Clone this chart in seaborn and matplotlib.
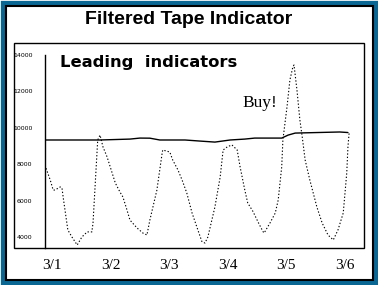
import matplotlib
matplotlib.use("Agg")
import matplotlib.pyplot as plt
import seaborn as sns
import pandas as pd
from matplotlib.patches import Rectangle

# ---- data ----
price_days = [-0.12, -0.03, 0.02, 0.05, 0.14, 0.17, 0.19, 0.27, 0.34, 0.43, 0.51, 0.60, 0.68, 0.70,
              0.78, 0.82, 0.87, 0.94, 1.08, 1.16, 1.21, 1.28, 1.33, 1.45, 1.55, 1.62, 1.67, 1.79,
              1.88, 1.89, 2.01, 2.06, 2.15, 2.22, 2.30, 2.39, 2.49, 2.56, 2.61, 2.66, 2.78, 2.87,
              2.92, 2.99, 3.07, 3.16, 3.21, 3.29, 3.34, 3.43, 3.52, 3.60, 3.62, 3.72, 3.81, 3.86,
              3.92, 3.94, 4.01, 4.06, 4.11, 4.13, 4.18, 4.23, 4.27, 4.32, 4.40, 4.52, 4.61, 4.71,
              4.80, 4.88, 4.97, 5.03, 5.05, 5.07]
price_vals = [7950, 7130, 6580, 6580, 6750, 6700, 6200, 4390, 4000, 3560, 4000, 4280, 4280, 4770,
              9330, 9600, 8950, 8400, 6970, 6470, 6200, 5480, 4930, 4500, 4220, 4110, 4930, 6580,
              8620, 8780, 8670, 8230, 7680, 7130, 6420, 5320, 4380, 3730, 3670, 4000, 5650, 7300,
              8780, 8950, 9060, 8780, 7850, 6580, 5870, 5400, 4800, 4300, 4220, 4770, 5320, 6030,
              7850, 9330, 11140, 12630, 13340, 13450, 12080, 10430, 9500, 8230, 7130, 5650, 4770, 4110,
              3840, 4385, 5320, 7520, 8940, 9710]

lead_days = [-0.12, 0.82, 1.33, 1.50, 1.67, 1.84, 2.27, 2.53, 2.78, 3.04, 3.29, 3.46, 3.92, 4.03,
             4.15, 4.91, 5.05]
lead_vals = [9330, 9330, 9380, 9435, 9430, 9330, 9330, 9270, 9215, 9330, 9380, 9435, 9435, 9600,
             9710, 9770, 9740]

date_labels = ["3/1", "3/2", "3/3", "3/4", "3/5", "3/6"]
ytick_vals = [4000, 6000, 8000, 10000, 12000, 14000]

price = pd.DataFrame({"day": price_days, "value": price_vals})
lead = pd.DataFrame({"day": lead_days, "value": lead_vals})

sns.set_style("white")
plt.rcParams.update({"text.color": "black", "xtick.color": "black", "ytick.color": "black",
                     "axes.labelcolor": "black", "axes.edgecolor": "black"})
W, H = 378, 285
fig = plt.figure(figsize=(W / 100, H / 100), dpi=100)
fig.patch.set_facecolor("white")

def fx(px):
    return px / W

def fy(py):
    return 1 - py / H

# outer blue + black frame
fig.patches.append(Rectangle((fx(2.5), fy(282.5)), fx(373), 280 / H, transform=fig.transFigure,
                             fill=False, edgecolor="#0a6794", linewidth=3.8))
fig.patches.append(Rectangle((fx(5.5), fy(279.5)), fx(367), 274 / H, transform=fig.transFigure,
                             fill=False, edgecolor="black", linewidth=1.5))

# axes
ax_l, ax_r, ax_t, ax_b = 45, 364, 43, 248
ax = fig.add_axes([fx(ax_l), fy(ax_b), fx(ax_r - ax_l), (ax_b - ax_t) / H])
ax.set_facecolor("none")

px_per_unit = 36.4 / 2000
ylo = 4000 - (ax_b - 237) / px_per_unit
yhi = 14000 + (55 - ax_t) / px_per_unit
ax.set_ylim(ylo, yhi)
px_per_day = 58.6
ax.set_xlim((ax_l - 52) / px_per_day, (ax_r - 52) / px_per_day)

sns.lineplot(data=lead, x="day", y="value", ax=ax, color="black", linewidth=1.0,
             estimator=None, sort=False)
sns.lineplot(data=price, x="day", y="value", ax=ax, color="black", linewidth=0.8,
             estimator=None, sort=False, linestyle=(0, (1.2, 1.8)))

for s in ["top", "right", "bottom"]:
    ax.spines[s].set_visible(False)
ax.spines["left"].set_color("black")
ax.spines["left"].set_linewidth(1.0)
ax.spines["left"].set_bounds(ylo, 14000)

ax.set_yticks(ytick_vals)
ax.set_yticklabels([str(v) for v in ytick_vals], fontsize=4.5, family="DejaVu Sans")
ax.tick_params(axis="y", direction="out", length=3, width=0.8, pad=6, color="black")
ax.set_xticks(range(len(date_labels)))
ax.set_xticklabels(date_labels, fontsize=11, family="Liberation Serif")
ax.tick_params(axis="x", length=0, pad=8)
ax.set_xlabel("")
ax.set_ylabel("")

# inner box
fig.patches.append(Rectangle((fx(14), fy(248)), fx(350), 205 / H, transform=fig.transFigure,
                             fill=False, edgecolor="black", linewidth=1.0))

fig.text(0.5, fy(20), "Filtered Tape Indicator", ha="center", va="center",
         fontsize=14, fontweight="bold", family="Liberation Sans", color="black")
fig.text(fx(60), fy(63), "Leading  indicators", ha="left", va="center",
         fontsize=11.8, fontweight="heavy", family=["DejaVu Sans"], color="black")
fig.text(fx(242), fy(103), "Buy!", ha="left", va="center",
         fontsize=12.5, family="Liberation Serif", color="black")

fig.savefig("out.png", dpi=100)
